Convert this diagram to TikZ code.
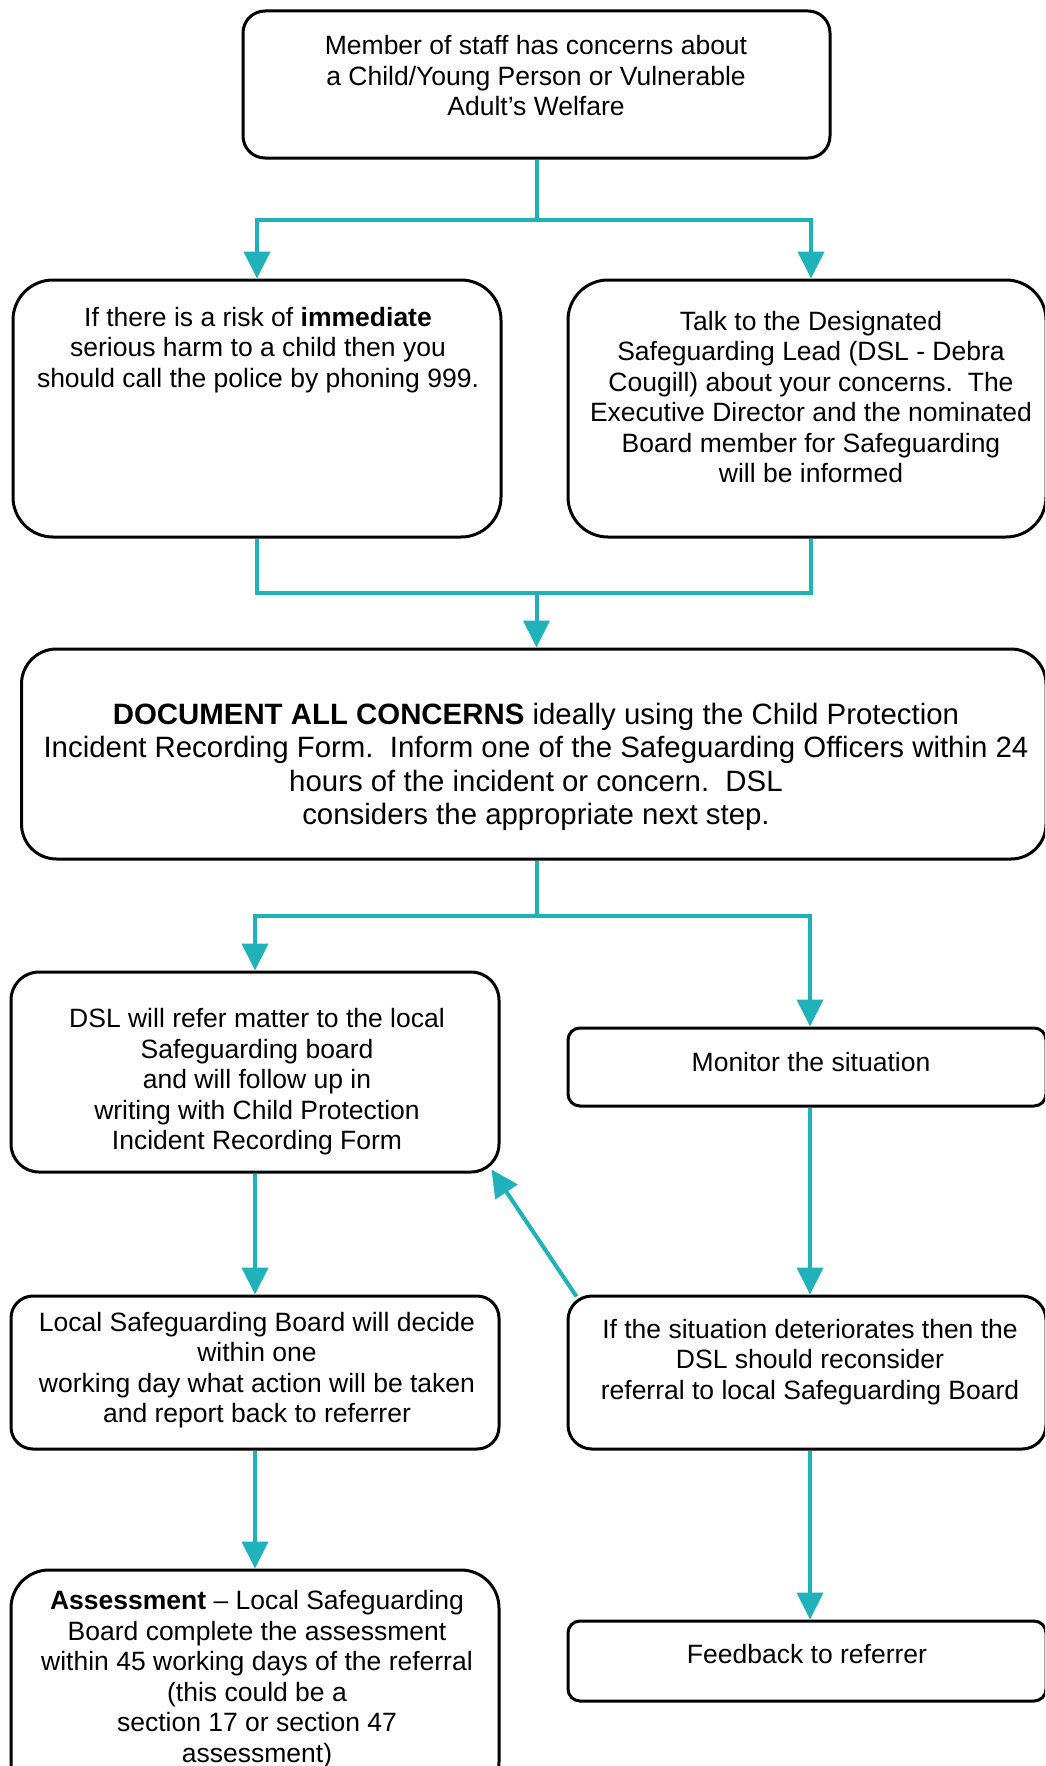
\documentclass[tikz,border=0pt]{standalone}
\usepackage{fontspec}
\setmainfont{Liberation Sans}
\usetikzlibrary{arrows.meta,calc}
\definecolor{tealc}{RGB}{31,178,186}
\begin{document}
\begin{tikzpicture}[x=1pt,y=-1pt,
  box/.style={draw=black, line width=3pt, rounded corners=#1, inner sep=0pt},
  box/.default=25pt,
  txt/.style={align=center, inner sep=0pt, font=\fontsize{26.5}{30.5}\selectfont},
  bigtxt/.style={align=center, inner sep=0pt, font=\fontsize{29.4}{33.4}\selectfont},
  conn/.style={draw=tealc, line width=4pt},
  arr/.style={conn, -{Triangle[length=27pt,width=26pt]}}]
\useasboundingbox (0,0) rectangle (1045,1766);
\clip (0,0) rectangle (1045,1766);
\fill[white] (0,0) rectangle (1045,1766);

% boxes
\node[box=22pt, minimum width=587pt, minimum height=147pt] (b1) at (536.5,84.5) {};
\node[box=40pt, minimum width=488pt, minimum height=257pt] (L2) at (257,408.5) {};
\node[box=40pt, minimum width=478pt, minimum height=257pt] (R2) at (807,408.5) {};
\node[box=35pt, minimum width=1024.5pt, minimum height=210pt] (doc) at (533.75,754) {};
\node[box=28pt, minimum width=488pt, minimum height=200pt] (refer) at (255,1072) {};
\node[box=12pt, minimum width=478pt, minimum height=78pt] (monitor) at (807,1067) {};
\node[box=22pt, minimum width=488pt, minimum height=153pt] (lsb) at (255,1372.5) {};
\node[box=24pt, minimum width=478pt, minimum height=153pt] (det) at (807,1372.5) {};
\node[box=38pt, minimum width=488pt, minimum height=230pt] (assess) at (255,1685) {};
\node[box=12pt, minimum width=478pt, minimum height=80pt] (feedback) at (807,1661) {};

% texts
\node[txt] (t1) at (536,76) {Member of staff has concerns about\\a Child/Young Person or Vulnerable\\Adult’s Welfare};
\node[txt] (tL2) at (258,350) {If there is a risk of \textbf{immediate}\\serious harm to a child then you\\should call the police by phoning 999.};
\node[txt] (tR2) at (811,397) {Talk to the Designated\\Safeguarding Lead (DSL - Debra\\Cougill) about your concerns.\ \ The\\Executive Director and the nominated\\Board member for Safeguarding\\will be informed};
\node[bigtxt] (tdoc) at (536,767) {\textbf{DOCUMENT ALL CONCERNS} ideally using the Child Protection\\Incident Recording Form.\ \ Inform one of the Safeguarding Officers within 24\\hours of the incident or concern.\ \ DSL\\considers the appropriate next step.};
\node[txt] (trefer) at (257,1082) {DSL will refer matter to the local\\Safeguarding board\\and will follow up in\\writing with Child Protection\\Incident Recording Form};
\node[txt] (tmonitor) at (811,1062) {Monitor the situation};
\node[txt] (tlsb) at (257,1370) {Local Safeguarding Board will decide\\within one\\working day what action will be taken\\and report back to referrer};
\node[txt] (tdet) at (810,1362) {If the situation deteriorates then the\\DSL should reconsider\\referral to local Safeguarding Board};
\node[txt] (tassess) at (257,1679) {\textbf{Assessment} – Local Safeguarding\\Board complete the assessment\\within 45 working days of the referral\\(this could be a\\section 17 or section 47\\assessment)};
\node[txt] (tfeedback) at (807,1654) {Feedback to referrer};

% connectors
\path (b1.south) ++(0,60) coordinate (j1);
\draw[conn] (b1.south) -- (j1);
\draw[arr] (j1) -| (L2.north);
\draw[arr] (j1) -| ([xshift=4pt]R2.north);

\path (L2.south) ++(0,54) coordinate (j2y);
\coordinate (j2) at (b1.south |- j2y);
\draw[conn] (L2.south) |- (j2) -| ([xshift=4pt]R2.south);
\draw[arr] (j2) -- (j2 |- doc.north);

\path (doc.south) ++(0,55) coordinate (j3y);
\coordinate (j3) at (b1.south |- j3y);
\draw[conn] (b1.south |- doc.south) -- (j3);
\draw[arr] (j3) -| (refer.north);
\draw[arr] (j3) -| ([xshift=3pt]monitor.north);

\draw[arr] (refer.south) -- (lsb.north);
\draw[arr] ([xshift=3pt]monitor.south) -- ([xshift=3pt]det.north);
\draw[arr] (lsb.south) -- (assess.north);
\draw[arr] ([xshift=3pt]det.south) -- ([xshift=3pt]feedback.north);
\draw[arr] ($(det.north west)+(10,2)$) -- ($(refer.south east)+(-9,-4)$);
\end{tikzpicture}
\end{document}
